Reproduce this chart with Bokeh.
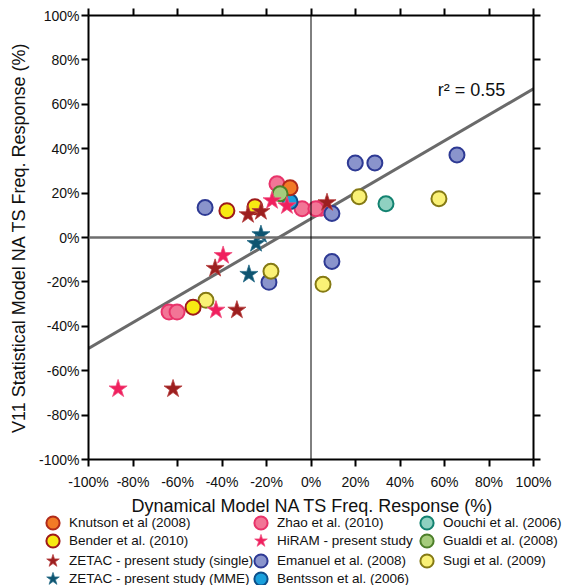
from bokeh.plotting import figure
from bokeh.models import (LinearAxis, FixedTicker, PrintfTickFormatter, Span, Legend,
                          LegendItem, Label)
from bokeh.layouts import column
from bokeh.embed import file_html
from bokeh.resources import INLINE

FONT = "Liberation Sans"

# ---- data (percent) ----
knutson_x = [-9.4]
knutson_y = [22.4]
bender_x = [-37.8, -25.2, -53.0]
bender_y = [12.1, 13.9, -31.4]
zetac_single_x = [-28.3, -22.5, 7.2, -43.1, -33.3, -62.0]
zetac_single_y = [10.3, 11.7, 15.7, -13.9, -32.7, -68.2]
zetac_mme_x = [-22.5, -24.7, -27.9]
zetac_mme_y = [1.3, -2.7, -16.6]
zhao_x = [-15.3, -4.0, 4.5, 2.2, -63.8, -60.2]
zhao_y = [24.2, 13.0, 13.2, 13.0, -33.6, -33.6]
hiram_x = [-17.5, -10.8, -39.5, -42.7, -86.7]
hiram_y = [16.6, 14.3, -8.1, -32.7, -68.2]
emanuel_x = [-47.6, 9.4, 19.9, 28.7, 65.6, 9.4, -18.9]
emanuel_y = [13.5, 10.8, 33.6, 33.6, 37.2, -10.8, -20.2]
bentsson_x = [-9.4]
bentsson_y = [16.1]
oouchi_x = [33.7]
oouchi_y = [15.2]
gualdi_x = [-13.9]
gualdi_y = [19.7]
sugi_x = [-47.2, -18.0, 5.4, 21.6, 57.5]
sugi_y = [-28.3, -15.2, -21.1, 18.4, 17.5]

fit_slope = 0.585
fit_intercept = 8.5
fit_xrange = [-100, 100]
r2_text = "r\u00b2 = 0.55"
x_title = "Dynamical Model NA TS Freq. Response (%)"
y_title = "V11 Statistical Model NA TS Freq. Response (%)"

ticks = [-100, -80, -60, -40, -20, 0, 20, 40, 60, 80, 100]

series = [
    # key, label, x, y, marker, fill, line
    ("knutson", "Knutson et al (2008)", knutson_x, knutson_y, "circle", "#f27a26", "#b02a1a"),
    ("bender", "Bender et al. (2010)", bender_x, bender_y, "circle", "#f7ea12", "#9e1a1a"),
    ("zetac_single", "ZETAC - present study (single)", zetac_single_x, zetac_single_y, "star", "#9c1f1f", "#b84040"),
    ("zetac_mme", "ZETAC - present study (MME)", zetac_mme_x, zetac_mme_y, "star", "#0e5470", "#2a6f8a"),
    ("zhao", "Zhao et al. (2010)", zhao_x, zhao_y, "circle", "#f27596", "#e8336a"),
    ("hiram", "HiRAM - present study", hiram_x, hiram_y, "star", "#f0205e", "#f05080"),
    ("emanuel", "Emanuel et al. (2008)", emanuel_x, emanuel_y, "circle", "#8a94cc", "#2e3a94"),
    ("bentsson", "Bentsson et al. (2006)", bentsson_x, bentsson_y, "circle", "#1aa0dc", "#0d4f8a"),
    ("oouchi", "Oouchi et al. (2006)", oouchi_x, oouchi_y, "circle", "#8fd1c1", "#138270"),
    ("gualdi", "Gualdi et al. (2008)", gualdi_x, gualdi_y, "circle", "#a5cc7c", "#4d7f2a"),
    ("sugi", "Sugi et al. (2009)", sugi_x, sugi_y, "circle", "#faf176", "#857a14"),
]
legend_columns = [
    ["knutson", "bender", "zetac_single", "zetac_mme"],
    ["zhao", "hiram", "emanuel", "bentsson"],
    ["oouchi", "gualdi", "sugi"],
]
draw_order = ["zhao", "emanuel", "sugi", "bender", "bentsson", "knutson", "gualdi", "oouchi",
              "zetac_single", "hiram", "zetac_mme"]

CS = 15
SS = 19
P_H = 492
P2_H = 585 - P_H

p = figure(width=567, height=P_H, x_range=(-100, 100), y_range=(-100, 100),
           output_backend="svg", toolbar_location=None,
           x_axis_location=None, y_axis_location=None,
           min_border_left=88, min_border_right=34, min_border_top=15, min_border_bottom=31)
p.outline_line_color = None
p.xgrid.visible = False
p.ygrid.visible = False


def make_axis(labels, title=None):
    ax = LinearAxis(ticker=FixedTicker(ticks=ticks),
                    formatter=PrintfTickFormatter(format="%d%%"))
    ax.axis_line_width = 2
    ax.axis_line_color = "black"
    ax.major_tick_line_width = 2
    ax.major_tick_line_color = "black"
    ax.major_tick_out = 7
    ax.major_tick_in = 0
    ax.minor_tick_out = 0
    ax.minor_tick_in = 0
    ax.major_label_text_font = FONT
    ax.major_label_text_color = "#111111"
    ax.major_label_text_font_size = "14px"
    if not labels:
        ax.major_label_overrides = {t: "" for t in ticks}
        ax.major_label_standoff = 0
    if title:
        ax.axis_label = title
        ax.axis_label_text_font = FONT
        ax.axis_label_text_font_size = "18px"
        ax.axis_label_text_font_style = "normal"
        ax.axis_label_text_color = "#111111"
    return ax


bottom = make_axis(True)
bottom.major_label_standoff = 7
left = make_axis(True, y_title)
left.major_label_standoff = 2
left.axis_label_standoff = 7
p.add_layout(bottom, "below")
p.add_layout(left, "left")
p.add_layout(make_axis(False), "above")
p.add_layout(make_axis(False), "right")

p.add_layout(Span(location=0, dimension="width", line_color="#6e6e6e", line_width=2.5))
p.add_layout(Span(location=0, dimension="height", line_color="black", line_width=1))

fit_y = [fit_intercept + fit_slope * x for x in fit_xrange]
p.line(fit_xrange, fit_y, line_color="#6a6a6a", line_width=3)

p.add_layout(Label(x=57, y=62, text=r2_text, text_font=FONT, text_font_size="18px",
                   text_color="#111111"))


def style(marker, fill, line):
    if marker == "circle":
        return dict(marker="circle", size=CS, fill_color=fill, line_color=line, line_width=2)
    return dict(marker="star", size=SS, fill_color=fill, line_color=line, line_width=0.8)


info = {s[0]: s for s in series}
for key in draw_order:
    _, _, xs, ys, marker, fill, line = info[key]
    p.scatter(xs, ys, **style(marker, fill, line))

# strip below the chart: x-axis title + legend (proxy renderers lie outside its ranges)
p2 = figure(width=567, height=P2_H, x_range=(1000, 1001), y_range=(1000, 1001),
            output_backend="svg", toolbar_location=None,
            x_axis_location=None, y_axis_location=None,
            min_border_left=0, min_border_right=0, min_border_top=0, min_border_bottom=0)
p2.outline_line_color = None
p2.xgrid.visible = False
p2.ygrid.visible = False
p2.frame_align = False

p2.add_layout(Label(x=312, y=P2_H - 13, x_units="screen", y_units="screen", text=x_title,
                    text_font=FONT, text_font_size="18px", text_color="#111111",
                    text_align="center", text_baseline="middle"))

proxies = {}
for key, label, xs, ys, marker, fill, line in series:
    proxies[key] = (label, p2.scatter(xs, ys, **style(marker, fill, line)))

GB = 33        # legend glyph box (marker drawn at 0.4 of it)
PITCH = 19
col_centers = [53, 260, 426]
first_row_from_top = 30
for keys, xc in zip(legend_columns, col_centers):
    for i, k in enumerate(keys):
        row_center = first_row_from_top + i * PITCH
        ybot = P2_H - (row_center + GB / 2)
        lg = Legend(items=[LegendItem(label=proxies[k][0], renderers=[proxies[k][1]])],
                    location=(int(round(xc - GB / 2)), int(round(ybot))),
                    label_text_font=FONT, label_text_font_size="13.5px",
                    label_text_color="#111111",
                    glyph_width=GB, glyph_height=GB, label_height=GB, label_standoff=0,
                    spacing=0, padding=0, margin=0, border_line_color=None,
                    background_fill_alpha=0)
        p2.add_layout(lg, "center")

layout = column(p, p2, spacing=0)
open("out.html", "w").write(file_html(layout, INLINE))
